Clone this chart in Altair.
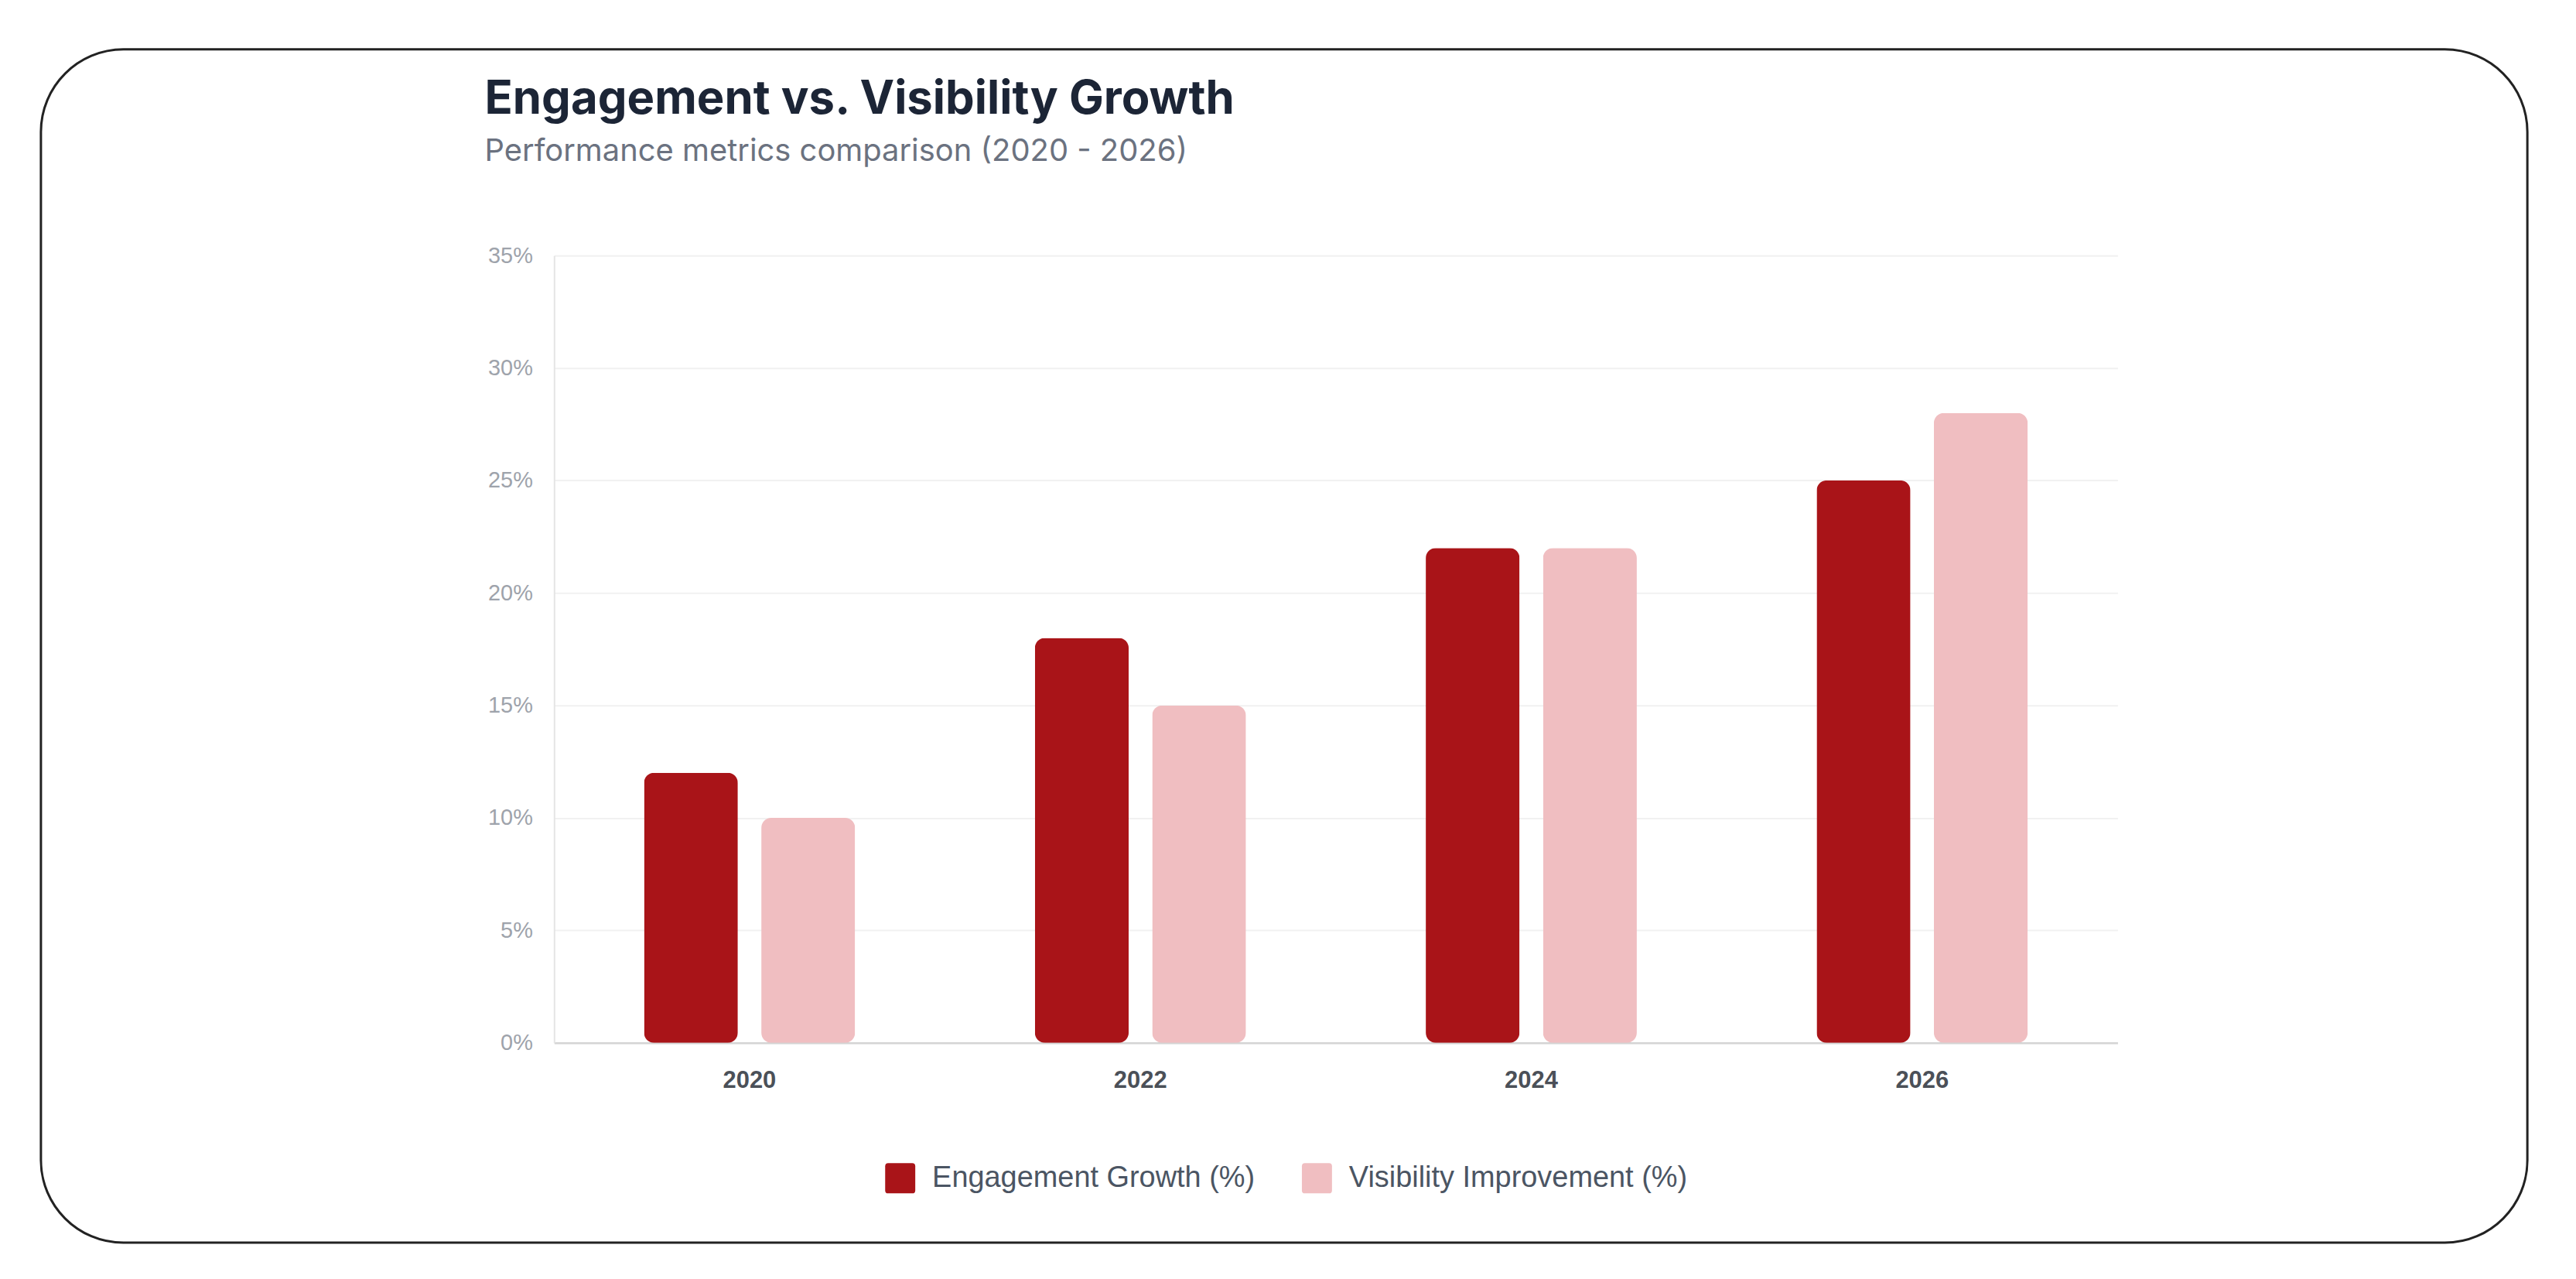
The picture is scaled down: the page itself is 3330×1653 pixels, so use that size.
import altair as alt
import pandas as pd

years = ["2020", "2022", "2024", "2026"]
engagement = [12, 18, 22, 25]
visibility = [10, 15, 22, 28]
series_names = ["Engagement Growth (%)", "Visibility Improvement (%)"]
colors = ["#a91418", "#f0bec1"]
y_ticks = [0, 5, 10, 15, 20, 25, 30, 35]

rows = []
for i, yr in enumerate(years):
    rows.append({"year": yr, "series": series_names[0], "value": engagement[i]})
    rows.append({"year": yr, "series": series_names[1], "value": visibility[i]})
df = pd.DataFrame(rows)

W, H = 2026, 1020

rounded_square = ("M-0.8,-1 H0.8 Q1,-1 1,-0.8 V0.8 Q1,1 0.8,1 H-0.8 "
                  "Q-1,1 -1,0.8 V-0.8 Q-1,-1 -0.8,-1 Z")

bars = alt.Chart(df).mark_bar(cornerRadius=13).encode(
    x=alt.X(
        "year:N", sort=years,
        scale=alt.Scale(paddingInner=0.46, paddingOuter=0.23),
        axis=alt.Axis(
            title=None, labelAngle=0, ticks=False, grid=False,
            labelFont="Liberation Sans", labelFontSize=31, labelFontWeight="bold",
            labelColor="#4b5058", labelPadding=34,
            domainColor="#d4d4d4", domainWidth=2.5,
        ),
    ),
    xOffset=alt.XOffset(
        "series:N", sort=series_names,
        scale=alt.Scale(paddingInner=0.2, paddingOuter=0),
    ),
    y=alt.Y(
        "value:Q",
        scale=alt.Scale(domain=[0, 35], nice=False),
        axis=alt.Axis(
            title=None, values=y_ticks, labelExpr="datum.value + '%'",
            ticks=False, labelFont="Liberation Sans", labelFontSize=29,
            labelColor="#9ea3ab", labelPadding=28,
            gridColor="#f1f1f1", gridWidth=2,
            domainColor="#e5e5e5", domainWidth=2,
        ),
    ),
    color=alt.Color(
        "series:N", sort=series_names,
        scale=alt.Scale(domain=series_names, range=colors),
        legend=alt.Legend(
            title=None, orient="none", legendX=429, legendY=1176,
            direction="horizontal", symbolType=rounded_square, symbolSize=1521,
            symbolStrokeWidth=0, labelFont="Liberation Sans", labelFontSize=38,
            labelColor="#4b5563", labelOffset=22, columnPadding=60, padding=0,
            labelLimit=0,
        ),
    ),
)

border = alt.Chart(pd.DataFrame({"a": [0]})).mark_rect(
    cornerRadius=107, fillOpacity=0, stroke="#222222", strokeWidth=3
).encode(
    x=alt.value(-665), x2=alt.value(2557),
    y=alt.value(-267), y2=alt.value(1279),
)

chart = alt.layer(border, bars).properties(
    width=W, height=H,
    autosize=alt.AutoSizeParams(type="none"),
    padding={"left": 710, "top": 321, "right": 586, "bottom": 296},
    background="white",
    title=alt.Title(
        "Engagement vs. Visibility Growth",
        subtitle="Performance metrics comparison (2020 - 2026)",
        anchor="start", frame="group", dx=-90, offset=-155,
        font="Inter", fontSize=60, fontWeight=700, color="#1c2536",
        subtitleFont="Inter", subtitleFontSize=40, subtitleColor="#6b7280",
        subtitlePadding=16,
    ),
).configure_view(stroke=None)

chart.save("out.html", embed_options={"renderer": "svg", "actions": False})
